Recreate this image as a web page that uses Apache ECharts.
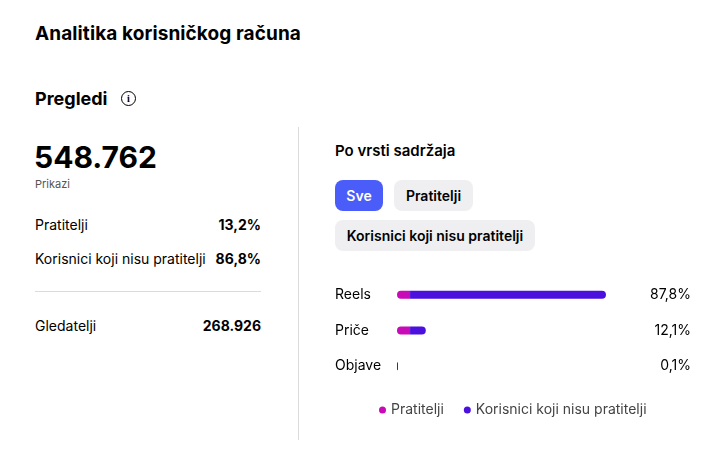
<!DOCTYPE html>
<html><head><meta charset="utf-8">
<script src="https://cdn.jsdelivr.net/npm/echarts@6/dist/echarts.min.js"></script>
<style>
body{margin:0;width:725px;height:461px;background:#fff;font-family:Inter,"Noto Sans",sans-serif;color:#000;position:relative;overflow:hidden}
.a{position:absolute;white-space:nowrap}
.btn{position:absolute;border-radius:8px;font-size:14px;font-weight:600;display:flex;align-items:center;justify-content:center}
.r{font-size:14px}
</style></head><body>
<div class="a" style="left:35px;top:22px;font-size:19px;font-weight:700;letter-spacing:0.1px">Analitika korisničkog računa</div>
<div class="a" style="left:35px;top:88px;font-size:18px;font-weight:700">Pregledi</div>
<div class="a" style="left:121px;top:91px;width:13px;height:13px;border:1.5px solid #000;border-radius:50%;font-size:10px;font-weight:700;text-align:center;line-height:13px;font-family:serif">i</div>
<div class="a" style="left:34px;top:139px;font-size:30px;font-weight:700">548.762</div>
<div class="a" style="left:35px;top:177px;font-size:11px;color:#555">Prikazi</div>
<div class="a r" style="left:35px;top:216px">Pratitelji</div>
<div class="a r" style="left:200px;width:61px;top:216px;text-align:right;font-weight:700">13,2%</div>
<div class="a r" style="left:35px;top:250px">Korisnici koji nisu pratitelji</div>
<div class="a r" style="left:200px;width:61px;top:250px;text-align:right;font-weight:700">86,8%</div>
<div class="a" style="left:35px;top:291px;width:226px;height:1px;background:#dbdbdb"></div>
<div class="a r" style="left:35px;top:317px">Gledatelji</div>
<div class="a r" style="left:180px;width:81px;top:317px;text-align:right;font-weight:700">268.926</div>
<div class="a" style="left:298px;top:127px;width:1px;height:313px;background:#dbdbdb"></div>
<div class="a" style="left:335px;top:141px;font-size:15px;font-weight:600">Po vrsti sadržaja</div>
<div class="btn" style="left:335px;top:180px;width:48px;height:31px;background:#4a5df9;color:#fff">Sve</div>
<div class="btn" style="left:394px;top:180px;width:79px;height:31px;background:#efeff1">Pratitelji</div>
<div class="btn" style="left:335px;top:220px;width:200px;height:31px;background:#efeff1">Korisnici koji nisu pratitelji</div>
<div id="c" class="a" style="left:330px;top:270px;width:390px;height:160px"></div>
<script>
const categories=["Reels","Priče","Objave"];
const totals=["87,8%","12,1%","0,1%"];
const followers=[5.5,5.5,0];
const nonFollowers=[82.3,6.6,0.3];
const ch=echarts.init(document.getElementById('c'));
ch.setOption({
 animation:false,
 grid:{left:67,width:238,top:7,height:107},
 legend:{bottom:8,left:44,icon:'circle',itemWidth:7,itemHeight:7,itemGap:20,textStyle:{fontSize:14,color:'#444',fontFamily:'Inter'},data:['Pratitelji','Korisnici koji nisu pratitelji']},
 xAxis:{type:'value',min:0,max:100,show:false},
 yAxis:[{type:'category',inverse:true,data:categories,axisLine:{show:false},axisTick:{show:false},axisLabel:{align:'left',margin:62,fontSize:14,color:'#000',fontFamily:'Inter'}},
 {type:'category',inverse:true,position:'right',data:totals,axisLine:{show:false},axisTick:{show:false},axisLabel:{align:'right',margin:56,fontSize:14,color:'#000',fontFamily:'Inter'}}],
 series:[
  {name:'Pratitelji',type:'bar',stack:'s',data:followers,barWidth:8,itemStyle:{color:'#c80bb7',borderRadius:[4,0,0,4]}},
  {name:'Korisnici koji nisu pratitelji',type:'bar',stack:'s',data:nonFollowers,barWidth:8,barMinHeight:1,itemStyle:{color:'#4b10de',borderRadius:[0,4,4,0]}}
 ]
});
</script></body></html>
